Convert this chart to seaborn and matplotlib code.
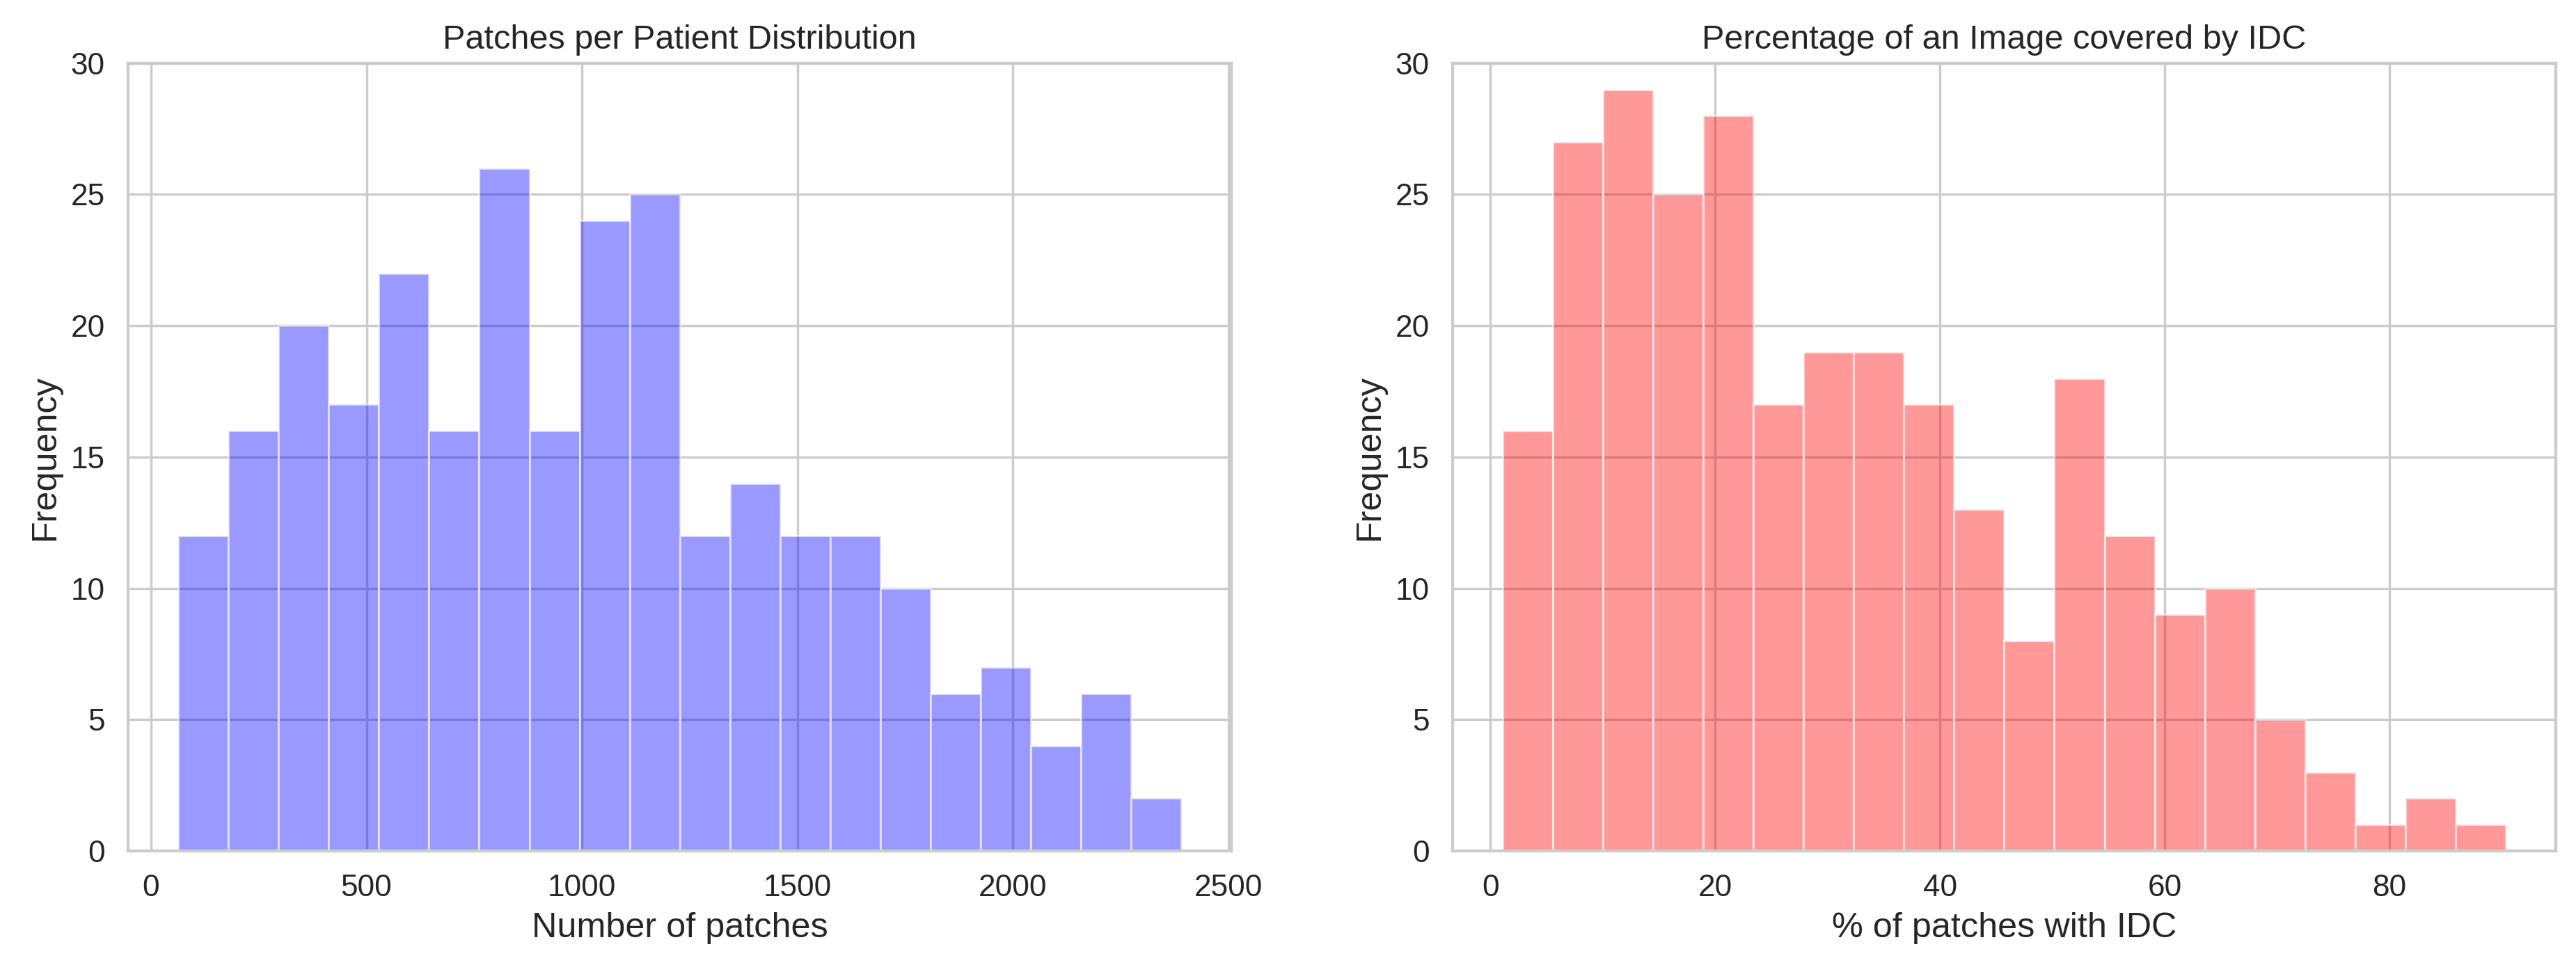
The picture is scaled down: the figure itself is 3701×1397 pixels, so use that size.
import numpy as np
import pandas as pd
import matplotlib
matplotlib.use("Agg")
import matplotlib.pyplot as plt
import seaborn as sns

# counts (20 bins each, 279 patients)
patch_counts = [12, 16, 20, 17, 22, 16, 26, 16, 24, 25,
                12, 14, 12, 12, 10, 6, 7, 4, 6, 2]
patch_range = (63, 2391)

idc_counts = [16, 27, 29, 25, 28, 17, 19, 19, 17, 13,
              8, 18, 12, 9, 10, 5, 3, 1, 2, 1]
idc_range = (1.07, 90.35)

yticks = [0, 5, 10, 15, 20, 25, 30]

sns.set_theme(style="whitegrid", context="notebook", font_scale=1.155)
plt.rcParams["font.family"] = ["Liberation Sans", "DejaVu Sans"]

fig, axes = plt.subplots(1, 2, figsize=(3701 / 250, 1397 / 250), dpi=250)
fig.subplots_adjust(left=0.0497, right=0.9922, bottom=0.1246, top=0.935, wspace=0.2)


def hist(ax, counts, rng, color, title, xlabel):
    edges = np.linspace(rng[0], rng[1], len(counts) + 1)
    df = pd.DataFrame({"x": (edges[:-1] + edges[1:]) / 2, "n": counts})
    sns.histplot(data=df, x="x", weights="n", bins=edges.tolist(), ax=ax,
                 color=color, alpha=0.4, edgecolor=(1, 1, 1, 0.55), linewidth=0.9)
    ax.set_ylim(0, 30)
    ax.set_yticks(yticks)
    ax.set_title(title, fontsize=14)
    ax.set_xlabel(xlabel, fontsize=14.5)
    ax.set_ylabel("Frequency", fontsize=14.5)


hist(axes[0], patch_counts, patch_range, "blue",
     "Patches per Patient Distribution", "Number of patches")
hist(axes[1], idc_counts, idc_range, "red",
     "Percentage of an Image covered by IDC", "% of patches with IDC")

fig.savefig("out.png", dpi=250)
